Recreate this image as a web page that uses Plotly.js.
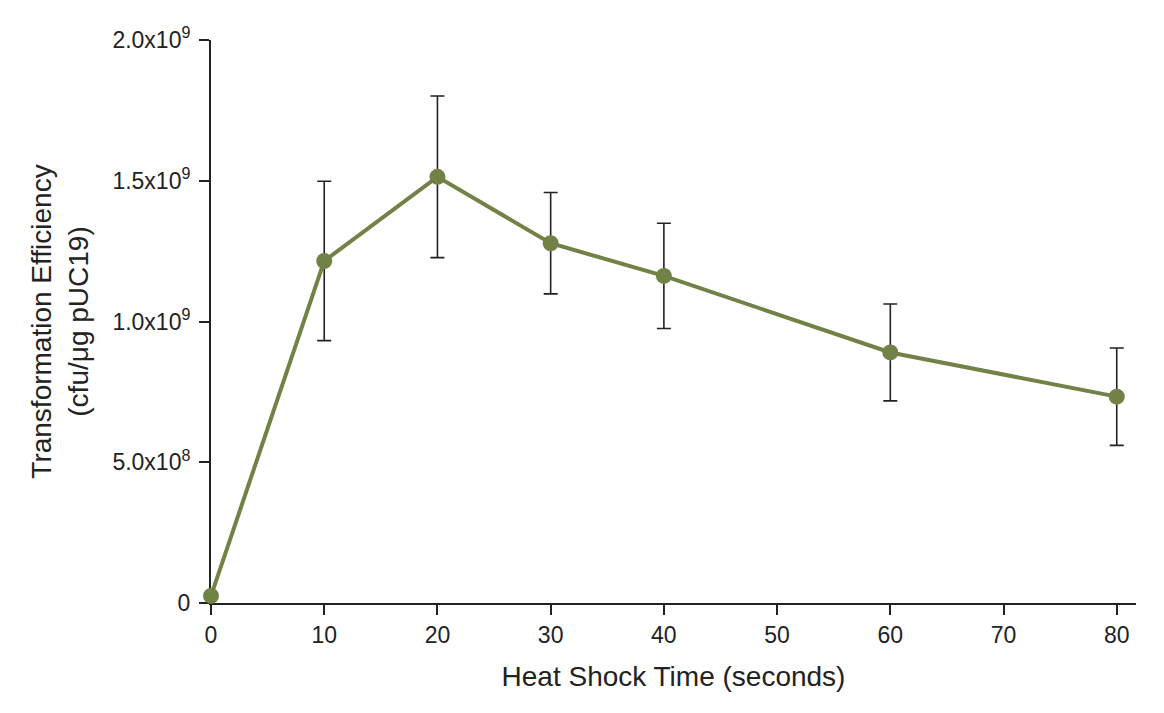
<!DOCTYPE html>
<html>
<head>
<meta charset="utf-8">
<script src="https://cdn.plot.ly/plotly-3.0.1.min.js"></script>
<style>
    html, body { margin: 0; padding: 0; background: #fff; }
    #chart { width: 1164px; height: 713px; }
</style>
</head>
<body>
<div id="chart"></div>
<script>
// heat shock time (s) vs transformation efficiency, mean +/- error
const times = [0, 10, 20, 30, 40, 60, 80];
const efficiency = [0.025e9, 1.215e9, 1.514e9, 1.278e9, 1.162e9, 0.890e9, 0.733e9];
const errors = [0, 0.283e9, 0.287e9, 0.180e9, 0.187e9, 0.172e9, 0.173e9];

const xTicks = [0, 10, 20, 30, 40, 50, 60, 70, 80];
const yTicks = [0, 5e8, 1e9, 1.5e9, 2e9];
const yTickText = ['0', '5.0x10<sup>8</sup>', '1.0x10<sup>9</sup>', '1.5x10<sup>9</sup>', '2.0x10<sup>9</sup>'];

const olive = '#728145';
const ink = '#222222';

const trace = {
    x: times,
    y: efficiency,
    type: 'scatter',
    mode: 'lines+markers',
    line: { color: olive, width: 4 },
    marker: { color: olive, size: 16 },
    error_y: {
        type: 'data',
        array: errors,
        visible: true,
        color: ink,
        thickness: 1.6,
        width: 7
    },
    cliponaxis: false,
    hoverinfo: 'x+y'
};

const layout = {
    width: 1164,
    height: 713,
    paper_bgcolor: '#ffffff',
    plot_bgcolor: '#ffffff',
    margin: { l: 211, r: 28, t: 40, b: 110 },
    font: { family: 'Liberation Sans, Arial, sans-serif', size: 23, color: ink },
    showlegend: false,
    xaxis: {
        range: [0, 81.7],
        tickvals: xTicks,
        ticks: 'outside',
        ticklen: 10,
        tickwidth: 2,
        tickcolor: ink,
        showline: true,
        linecolor: ink,
        linewidth: 2,
        showgrid: false,
        zeroline: false,
        layer: 'below traces',
        title: { text: 'Heat Shock Time (seconds)', font: { size: 28 }, standoff: 20 }
    },
    yaxis: {
        range: [0, 2e9],
        tickvals: yTicks,
        ticktext: yTickText,
        ticks: 'outside',
        ticklen: 10,
        tickwidth: 2,
        tickcolor: ink,
        ticklabelstandoff: 4,
        showline: true,
        linecolor: ink,
        linewidth: 2,
        showgrid: false,
        zeroline: false,
        layer: 'below traces',
        title: { text: 'Transformation Efficiency<br>(cfu/μg pUC19)', font: { size: 28 }, standoff: 16 }
    }
};

Plotly.newPlot('chart', [trace], layout, { displayModeBar: false, staticPlot: true });
</script>
</body>
</html>
